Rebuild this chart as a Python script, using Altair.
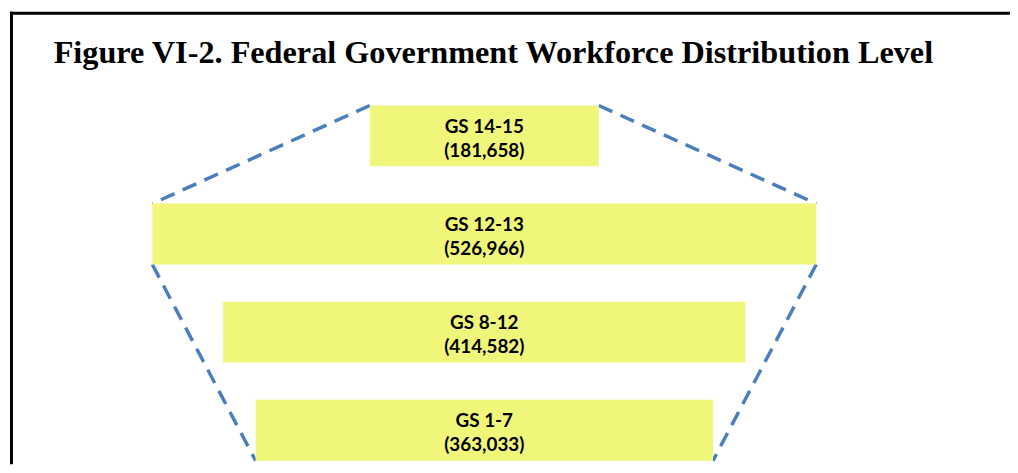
import altair as alt
import pandas as pd

title_text = "Figure VI-2. Federal Government Workforce Distribution Level"
grades = ["GS 14-15", "GS 12-13", "GS 8-12", "GS 1-7"]
counts = [181658, 526966, 414582, 363033]
count_labels = ["(181,658)", "(526,966)", "(414,582)", "(363,033)"]

# layout constants (pixels / scale geometry, not data)
W, H = 1010, 457
HALF = 0.31          # half bar height in row units
ROW0 = 127.5         # pixel centre of first row
STEP = 100.0         # pixels per row
K = 0.001275         # pixels per person
CX = 480             # pixel centre of the pyramid

bars = pd.DataFrame({"grade": grades, "count": counts, "label": count_labels})
bars["row"] = range(len(bars))
bars["x1"] = -bars["count"] / 2
bars["x2"] = bars["count"] / 2
bars["mid"] = (bars["x1"] + bars["x2"]) / 2
bars["top"] = bars["row"] - HALF
bars["bottom"] = bars["row"] + HALF

b = bars
last = len(b) - 1
segs = pd.DataFrame([
    {"xa": b.x1[0], "ya": b.top[0], "xb": b.x1[1], "yb": b.top[1]},
    {"xa": b.x2[0], "ya": b.top[0], "xb": b.x2[1], "yb": b.top[1]},
    {"xa": b.x1[1], "ya": b.bottom[1], "xb": b.x1[last], "yb": b.bottom[last]},
    {"xa": b.x2[1], "ya": b.bottom[1], "xb": b.x2[last], "yb": b.bottom[last]},
])

xs = alt.Scale(domain=[-CX / K, (W - CX) / K], nice=False, zero=False)
ys = alt.Scale(domain=[-ROW0 / STEP, (H - ROW0) / STEP], reverse=True, nice=False, zero=False)

outline = alt.Chart(segs).mark_rule(
    color="#4A7EBF", strokeWidth=3.5, strokeDash=[15, 9], strokeCap="butt"
).encode(
    x=alt.X("xa:Q", scale=xs, axis=None),
    x2="xb:Q",
    y=alt.Y("ya:Q", scale=ys, axis=None),
    y2="yb:Q",
)

rects = alt.Chart(bars).mark_rect(color="#F0F679").encode(
    x=alt.X("x1:Q", scale=xs, axis=None),
    x2="x2:Q",
    y=alt.Y("top:Q", scale=ys, axis=None),
    y2="bottom:Q",
)

line1 = alt.Chart(bars).mark_text(
    font="Lato", fontWeight="bold", fontSize=19, color="black",
    baseline="alphabetic", align="center", dy=-3
).encode(
    x=alt.X("mid:Q", scale=xs, axis=None),
    y=alt.Y("row:Q", scale=ys, axis=None),
    text="grade:N",
)
line2 = alt.Chart(bars).mark_text(
    font="Lato", fontWeight="bold", fontSize=19, color="black",
    baseline="alphabetic", align="center", dy=21
).encode(
    x=alt.X("mid:Q", scale=xs, axis=None),
    y=alt.Y("row:Q", scale=ys, axis=None),
    text="label:N",
)

one = pd.DataFrame({"t": [title_text]})
frame_top = alt.Chart(one).mark_rule(color="black", strokeWidth=3).encode(
    x=alt.value(0), x2=alt.value(W), y=alt.value(2.5)
)
frame_left = alt.Chart(one).mark_rule(color="black", strokeWidth=3).encode(
    x=alt.value(1.5), y=alt.value(1), y2=alt.value(H)
)
title = alt.Chart(one).mark_text(
    font="Liberation Serif", fontWeight="bold", fontSize=32.5, color="black",
    align="left", baseline="alphabetic"
).encode(x=alt.value(44), y=alt.value(53), text="t:N")

chart = alt.layer(outline, rects, line1, line2, frame_top, frame_left, title).properties(
    width=W, height=H, padding=0,
    autosize=alt.AutoSizeParams(type="fit", contains="padding"),
).configure_view(strokeWidth=0)

chart.save("out.html", embed_options={"renderer": "svg", "actions": False})
